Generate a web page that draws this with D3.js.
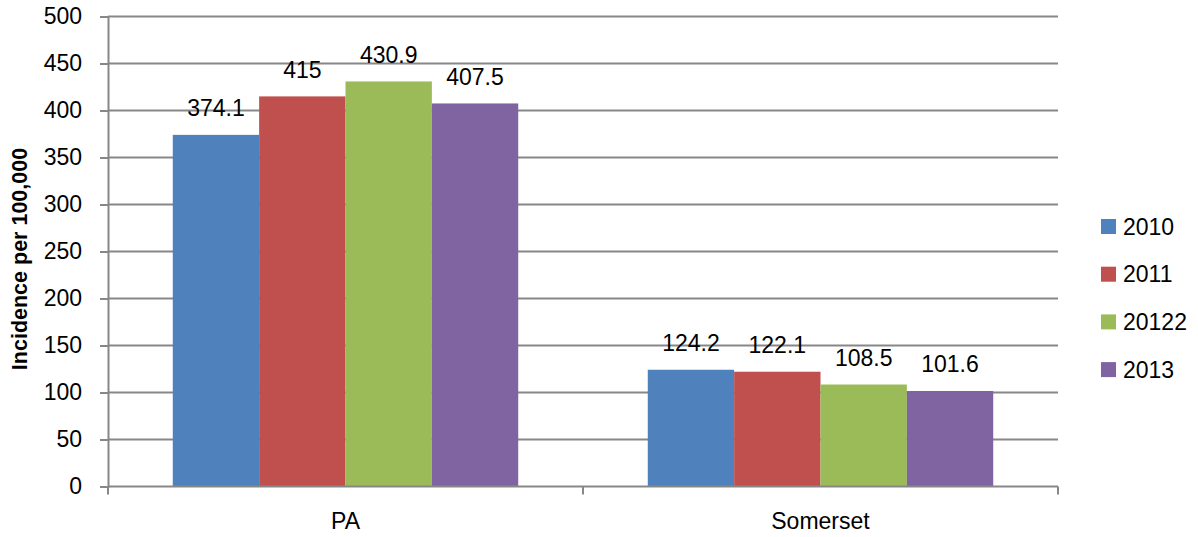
<!DOCTYPE html>
<html>
<head>
<meta charset="utf-8">
<script src="https://cdn.jsdelivr.net/npm/d3@7"></script>
<style>
  html, body { margin: 0; padding: 0; background: #fff; }
  svg { display: block; font-family: "Liberation Sans", Arial, sans-serif; }
</style>
</head>
<body>
<svg id="chart" width="1198" height="537"></svg>
<script>
const categories = ["PA", "Somerset"];
const seriesNames = ["2010", "2011", "20122", "2013"];
const seriesColors = ["#4F81BD", "#C0504D", "#9BBB59", "#8064A2"];
const values2010 = [374.1, 124.2];
const values2011 = [415, 122.1];
const values2012 = [430.9, 108.5];
const values2013 = [407.5, 101.6];
const yTicks = [0, 50, 100, 150, 200, 250, 300, 350, 400, 450, 500];
const yTitle = "Incidence per 100,000";

(function () {
const seriesValues = [values2010, values2011, values2012, values2013];
const data = categories.map((c, i) => ({
  cat: c,
  vals: seriesNames.map((s, j) => ({ key: s, v: seriesValues[j][i], color: seriesColors[j] }))
}));

const svg = d3.select("#chart");
const pLeft = 108, pRight = 1058, pTop = 16.5, pBottom = 486.5;
const gridColor = "#878787";
const fontSize = 23;

const x0 = d3.scaleBand().domain(categories).range([pLeft, pRight]).paddingInner(0).paddingOuter(0);
const gapRatio = 1.5 / (seriesNames.length + 1.5);
const x1 = d3.scaleBand().domain(seriesNames)
  .range([x0.bandwidth() * gapRatio / 2, x0.bandwidth() * (1 - gapRatio / 2)])
  .paddingInner(0).paddingOuter(0);
const y = d3.scaleLinear().domain([0, 500]).range([pBottom, pTop]);

const yAxis = d3.axisLeft(y).tickValues(yTicks).tickSize(8).tickPadding(18).tickFormat(d3.format("d"));
const gy = svg.append("g").attr("transform", `translate(${pLeft},0)`).call(yAxis);
gy.select(".domain").attr("stroke", gridColor).attr("stroke-width", 2);
gy.selectAll(".tick line").attr("stroke", gridColor).attr("stroke-width", 2);
gy.selectAll(".tick text").attr("font-size", fontSize).attr("fill", "#000").attr("font-family", "Liberation Sans, Arial, sans-serif");

svg.append("g").selectAll("line").data(yTicks.filter(t => t > 0)).join("line")
  .attr("x1", pLeft).attr("x2", pRight)
  .attr("y1", d => y(d)).attr("y2", d => y(d))
  .attr("stroke", gridColor).attr("stroke-width", 2);

const groups = svg.append("g").selectAll("g").data(data).join("g")
  .attr("transform", d => `translate(${x0(d.cat)},0)`);
groups.selectAll("rect").data(d => d.vals).join("rect")
  .attr("x", d => x1(d.key))
  .attr("width", x1.bandwidth())
  .attr("y", d => y(d.v))
  .attr("height", d => y(0) - y(d.v))
  .attr("fill", d => d.color);
groups.selectAll("text").data(d => d.vals).join("text")
  .attr("x", d => x1(d.key) + x1.bandwidth() / 2)
  .attr("y", d => y(d.v) - 18.5)
  .attr("text-anchor", "middle")
  .attr("font-size", fontSize)
  .attr("fill", "#000")
  .text(d => d.v);

const boundaries = [pLeft, ...categories.map(c => x0(c) + x0.bandwidth())];
const gx = svg.append("g");
gx.append("line").attr("x1", pLeft).attr("x2", pRight).attr("y1", y(0)).attr("y2", y(0))
  .attr("stroke", gridColor).attr("stroke-width", 2);
gx.selectAll("line.tk").data(boundaries).join("line").attr("class", "tk")
  .attr("x1", d => d).attr("x2", d => d).attr("y1", y(0)).attr("y2", y(0) + 8)
  .attr("stroke", gridColor).attr("stroke-width", 2);
gx.selectAll("text").data(categories).join("text")
  .attr("x", d => x0(d) + x0.bandwidth() / 2)
  .attr("y", 529)
  .attr("text-anchor", "middle")
  .attr("font-size", fontSize)
  .attr("fill", "#000")
  .text(d => d);

svg.append("text")
  .attr("transform", `translate(27,259) rotate(-90)`)
  .attr("text-anchor", "middle")
  .attr("font-size", 21.5)
  .attr("font-weight", "bold")
  .attr("fill", "#000")
  .text(yTitle);

const legend = svg.append("g").selectAll("g").data(seriesNames).join("g")
  .attr("transform", (d, i) => `translate(1101,${226.5 + i * 47.7})`);
legend.append("rect").attr("x", 0).attr("y", -7.5).attr("width", 15).attr("height", 15)
  .attr("fill", (d, i) => seriesColors[i]);
legend.append("text").attr("x", 22).attr("y", 0).attr("dy", "0.36em")
  .attr("font-size", fontSize).attr("fill", "#000").text(d => d);
})();
</script>
</body>
</html>
